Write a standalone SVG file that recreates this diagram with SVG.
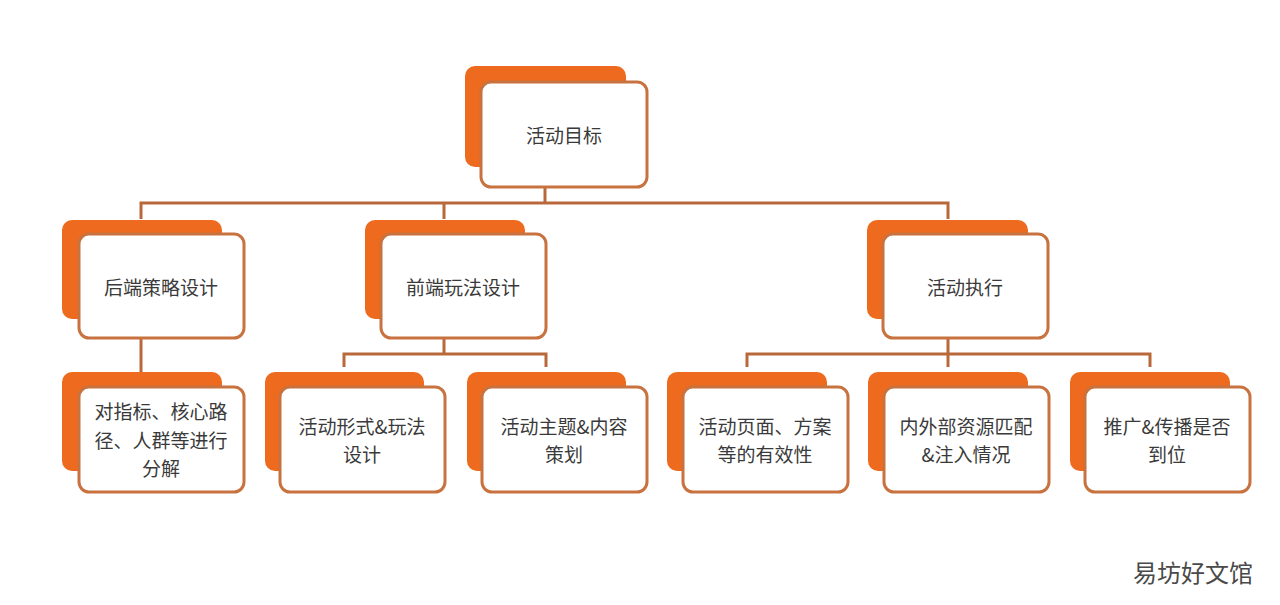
<svg xmlns="http://www.w3.org/2000/svg" width="1280" height="605" viewBox="0 0 1280 605">
<style>
.bk{fill:#EE6A1E;}
.fr{fill:#FFFFFF;stroke:#C8733F;stroke-width:3;}
.t{font-family:"Noto Sans CJK SC","Noto Sans",sans-serif;font-size:19px;fill:#3A3A3A;text-anchor:middle;dominant-baseline:central;}
.c{fill:none;stroke:#B9683C;stroke-width:3;}
.wm{font-family:"Noto Sans CJK SC",sans-serif;font-size:24px;fill:#4A4A4A;stroke:#FFFFFF;stroke-width:3;paint-order:stroke;}
</style>
<rect width="1280" height="605" fill="#FFFFFF"/>
<g id="connectors">
<path class="c" d="M545 187 V203 M141 219 V203 H948 V219 M444 203 V219"/>
<path class="c" d="M141 339 V372"/>
<path class="c" d="M444 339 V354 M344 367 V354 H546 V367"/>
<path class="c" d="M948 339 V354 M747 367 V354 H1150 V367 M948 354 V367"/>
</g>
<g id="n0">
<rect class="bk" x="465" y="66" width="161" height="101" rx="10"/>
<rect class="fr" x="481" y="82" width="166" height="105" rx="10"/>
<text class="t" x="564" y="134">活动目标</text>
</g>
<g id="n1">
<rect class="bk" x="62" y="220" width="160" height="99" rx="10"/>
<rect class="fr" x="79" y="234" width="165" height="104" rx="10"/>
<text class="t" x="161" y="286">后端策略设计</text>
</g>
<g id="n2">
<rect class="bk" x="365" y="220" width="160" height="99" rx="10"/>
<rect class="fr" x="381" y="234" width="165" height="104" rx="10"/>
<text class="t" x="463" y="286">前端玩法设计</text>
</g>
<g id="n3">
<rect class="bk" x="867" y="220" width="161" height="99" rx="10"/>
<rect class="fr" x="883" y="234" width="165" height="104" rx="10"/>
<text class="t" x="965" y="286">活动执行</text>
</g>
<g id="n4">
<rect class="bk" x="62" y="372" width="160" height="99" rx="10"/>
<rect class="fr" x="79" y="387" width="165" height="105" rx="10"/>
<text class="t" x="161" y="410">对指标、核心路</text>
<text class="t" x="161" y="439">径、人群等进行</text>
<text class="t" x="161" y="467">分解</text>
</g>
<g id="n5">
<rect class="bk" x="265" y="372" width="159" height="99" rx="10"/>
<rect class="fr" x="280" y="387" width="165" height="105" rx="10"/>
<text class="t" x="362" y="425">活动形式&amp;玩法</text>
<text class="t" x="362" y="453">设计</text>
</g>
<g id="n6">
<rect class="bk" x="467" y="372" width="159" height="99" rx="10"/>
<rect class="fr" x="482" y="387" width="165" height="105" rx="10"/>
<text class="t" x="564" y="425">活动主题&amp;内容</text>
<text class="t" x="564" y="453">策划</text>
</g>
<g id="n7">
<rect class="bk" x="667" y="372" width="160" height="99" rx="10"/>
<rect class="fr" x="683" y="387" width="165" height="105" rx="10"/>
<text class="t" x="765" y="425">活动页面、方案</text>
<text class="t" x="765" y="453">等的有效性</text>
</g>
<g id="n8">
<rect class="bk" x="868" y="372" width="160" height="99" rx="10"/>
<rect class="fr" x="884" y="387" width="165" height="105" rx="10"/>
<text class="t" x="966" y="425">内外部资源匹配</text>
<text class="t" x="966" y="453">&amp;注入情况</text>
</g>
<g id="n9">
<rect class="bk" x="1070" y="372" width="160" height="99" rx="10"/>
<rect class="fr" x="1085" y="387" width="165" height="105" rx="10"/>
<text class="t" x="1167" y="425">推广&amp;传播是否</text>
<text class="t" x="1167" y="453">到位</text>
</g>
<text class="wm" x="1133" y="582">易坊好文馆</text>
</svg>
